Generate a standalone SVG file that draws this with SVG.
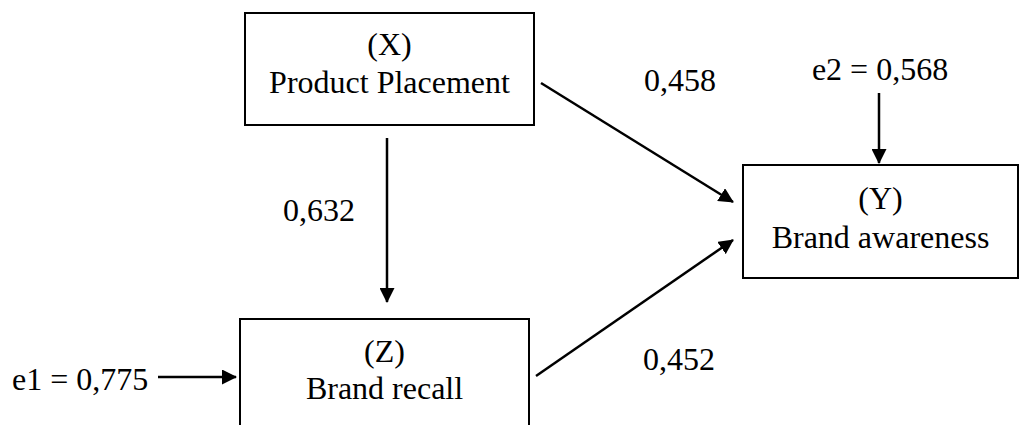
<svg xmlns="http://www.w3.org/2000/svg" width="1021" height="425" viewBox="0 0 1021 425">
  <style>
    .box { fill: #ffffff; stroke: #000000; stroke-width: 2; }
    .t { font-family: "Liberation Serif", "Times New Roman", serif; font-size: 32px; fill: #000000; text-anchor: middle; }
    .tl { font-family: "Liberation Serif", "Times New Roman", serif; font-size: 32px; fill: #000000; }
    .edge { stroke: #000000; stroke-width: 2.5; fill: none; marker-end: url(#ah); }
  </style>
  <defs>
    <marker id="ah" markerWidth="6" markerHeight="6" refX="5.6" refY="3" orient="auto" markerUnits="strokeWidth">
      <path d="M0,0 L6,3 L0,6 Z" fill="#000000"/>
    </marker>
  </defs>
  <rect width="1021" height="425" fill="#ffffff"/>

  <g id="connectors">
    <line class="edge" x1="387" y1="138" x2="387" y2="302"/>
    <line class="edge" x1="541" y1="83" x2="733" y2="202"/>
    <line class="edge" x1="536" y1="376" x2="733" y2="240"/>
    <line class="edge" x1="879" y1="93" x2="879" y2="163"/>
    <line class="edge" x1="158" y1="377" x2="236" y2="377"/>
  </g>

  <g id="node-x">
    <rect class="box" x="245" y="13" width="289" height="112"/>
    <text class="t" x="389.5" y="55">(X)</text>
    <text class="t" x="389.5" y="93">Product Placement</text>
  </g>

  <g id="node-z">
    <rect class="box" x="240" y="319" width="289" height="120"/>
    <text class="t" x="384.5" y="362">(Z)</text>
    <text class="t" x="384.5" y="399">Brand recall</text>
  </g>

  <g id="node-y">
    <rect class="box" x="743" y="165" width="275" height="113"/>
    <text class="t" x="880.5" y="209">(Y)</text>
    <text class="t" x="880.5" y="248">Brand awareness</text>
  </g>

  <g id="labels">
    <text class="t" x="880" y="80">e2 = 0,568</text>
    <text class="tl" x="12" y="390">e1 = 0,775</text>
    <text class="t" x="319" y="221">0,632</text>
    <text class="t" x="680" y="91">0,458</text>
    <text class="t" x="679" y="370">0,452</text>
  </g>
</svg>
